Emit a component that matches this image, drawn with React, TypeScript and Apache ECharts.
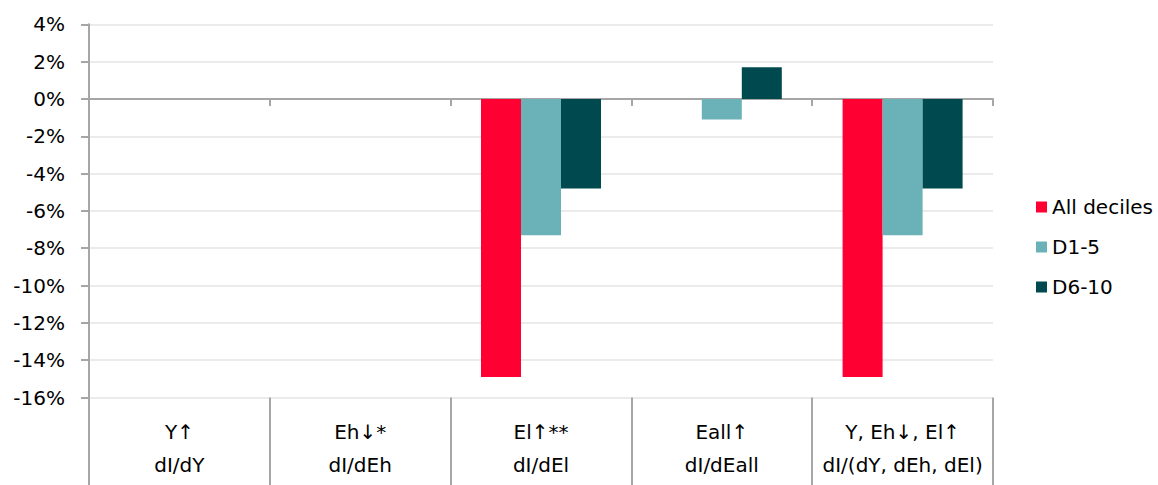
import React, { useEffect, useRef } from "react";
import * as echarts from "echarts";

const categories = [
  "Y↑\ndI/dY",
  "Eh↓*\ndI/dEh",
  "El↑**\ndI/dEl",
  "Eall↑\ndI/dEall",
  "Y, Eh↓, El↑\ndI/(dY, dEh, dEl)",
];
const allDeciles = [0, 0, -14.9, 0, -14.9];
const d1to5 = [0, 0, -7.3, -1.1, -7.3];
const d6to10 = [0, 0, -4.8, 1.7, -4.8];
const seriesNames = ["All deciles", "D1-5", "D6-10"];
const colors = ["#FF0033", "#6AB2B8", "#004A4F"];

const FONT = "DejaVu Sans";

export default function App() {
  const ref = useRef<HTMLDivElement>(null);
  useEffect(() => {
    if (!ref.current) return;
    const chart = echarts.init(ref.current, undefined, { renderer: "svg" });
    const textBase = { fontFamily: FONT, fontSize: 20, color: "#000" };
    const datas = [allDeciles, d1to5, d6to10];
    chart.setOption({
      animation: false,
      grid: { left: 89, right: 165, top: 24.3, bottom: 87.5, containLabel: false },
      legend: {
        orient: "vertical",
        left: 1031,
        top: 192,
        icon: "rect",
        itemWidth: 11,
        itemHeight: 11,
        itemGap: 20,
        textStyle: { ...textBase, lineHeight: 20 },
        data: seriesNames,
      },
      xAxis: [
        {
          type: "category",
          data: categories,
          position: "bottom",
          axisLine: { show: false, onZero: false },
          axisTick: {
            show: true,
            interval: 0,
            length: 88,
            lineStyle: { color: "#a6a6a6", width: 2 },
          },
          axisLabel: {
            interval: 0,
            margin: 18,
            lineHeight: 33,
            ...textBase,
          },
          splitLine: { show: false },
        },
        {
          type: "category",
          data: categories,
          position: "bottom",
          axisLine: { show: true, onZero: true, lineStyle: { color: "#a6a6a6", width: 2 } },
          axisTick: {
            show: true,
            interval: 0,
            length: 7,
            lineStyle: { color: "#a6a6a6", width: 2 },
          },
          axisLabel: { show: false },
          splitLine: { show: false },
        },
      ],
      yAxis: {
        type: "value",
        min: -16,
        max: 4,
        interval: 2,
        axisLine: { show: true, lineStyle: { color: "#a6a6a6", width: 2 } },
        axisTick: { show: true, length: 8, lineStyle: { color: "#a6a6a6", width: 2 } },
        axisLabel: { formatter: "{value}%", margin: 24, ...textBase },
        splitLine: { show: true, lineStyle: { color: "#e4e4e4", width: 1.5 } },
      },
      series: seriesNames.map((name, i) => ({
        name,
        type: "bar",
        xAxisIndex: 0,
        data: datas[i],
        barWidth: 40,
        barGap: "0%",
        itemStyle: { color: colors[i] },
      })),
    });
    return () => chart.dispose();
  }, []);
  return (
    <div
      ref={ref}
      style={{ position: "absolute", left: 0, top: 0, width: 1158, height: 485 }}
    />
  );
}
